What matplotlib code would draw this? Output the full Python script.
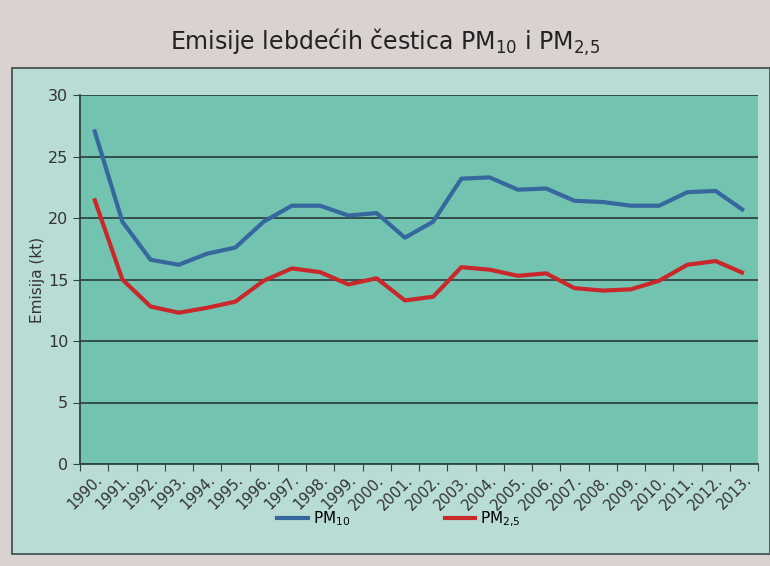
import numpy as np
import matplotlib.pyplot as plt
from matplotlib.patches import Rectangle
from matplotlib.lines import Line2D

years=[f'{y}.' for y in range(1990,2014)]
pm10=[27.2,19.7,16.6,16.2,17.1,17.6,19.7,21.0,21.0,20.2,20.4,18.4,19.7,23.2,23.3,22.3,22.4,21.4,21.3,21.0,21.0,22.1,22.2,20.6]
pm25=[21.6,15.0,12.8,12.3,12.7,13.2,14.9,15.9,15.6,14.6,15.1,13.3,13.6,16.0,15.8,15.3,15.5,14.3,14.1,14.2,14.9,16.2,16.5,15.5]

W,H=770,566
fig=plt.figure(figsize=(W/100,H/100),dpi=100,facecolor='#dad1d1')
# inner panel
fig.patches.append(Rectangle((12/W,(H-554)/H),(W-12)/W,(554-68)/H,transform=fig.transFigure,
                             facecolor='#b9ddd5',edgecolor='#3a4a48',lw=1.2,zorder=-1))
fig.text(0.5,1-42/H,r'Emisije lebdećih čestica PM$_{\mathregular{10}}$ i PM$_{\mathregular{2{,}5}}$',
         ha='center',va='center',fontsize=17,color='#222222',family='DejaVu Sans')

ax=fig.add_axes([80/W,(H-464)/H,(758-80)/W,(464-95)/H])
ax.set_facecolor('#73c3b1')
x=np.arange(len(years))
ax.plot(x,pm10,color='#36689e',lw=3,solid_capstyle='butt',zorder=3)
ax.plot(x,pm25,color='#c9282b',lw=3,solid_capstyle='butt',zorder=3)
ax.set_ylim(0,30); ax.set_xlim(-0.5,len(years)-0.5)
ax.set_yticks(range(0,31,5))
ax.yaxis.grid(True,color='#2e4542',lw=1.3)
ax.set_axisbelow(True)
ax.set_xticks(np.arange(-0.5,len(years),1))
ax.set_xticklabels([])
ax.set_xticks(x,minor=True)
ax.set_xticklabels(years,minor=True,rotation=45,ha='right',va='top',rotation_mode='anchor',fontsize=10.5,color='#333333')
ax.tick_params(axis='x',which='minor',length=0,pad=6)
ax.tick_params(axis='x',which='major',length=5,color='#2e4542',direction='out')
ax.tick_params(axis='y',length=5,color='#2e4542',labelsize=11.5,labelcolor='#333333')
for s in ['top','right']: ax.spines[s].set_visible(False)
for s in ['left','bottom']: ax.spines[s].set_color('#2e4542'); ax.spines[s].set_linewidth(1.3)
ax.set_ylabel('Emisija (kt)',fontsize=11,color='#333333',labelpad=2)

h=[Line2D([],[],color='#36689e',lw=3),Line2D([],[],color='#c9282b',lw=3)]
fig.legend(h,[r'PM$_{\mathregular{10}}$',r'PM$_{\mathregular{2{,}5}}$'],loc='center',bbox_to_anchor=(0.518,1-519/H),
           ncol=2,frameon=False,fontsize=11,handlelength=2,columnspacing=6.2,handletextpad=0.3)
fig.savefig('out.png',dpi=100,facecolor=fig.get_facecolor())
